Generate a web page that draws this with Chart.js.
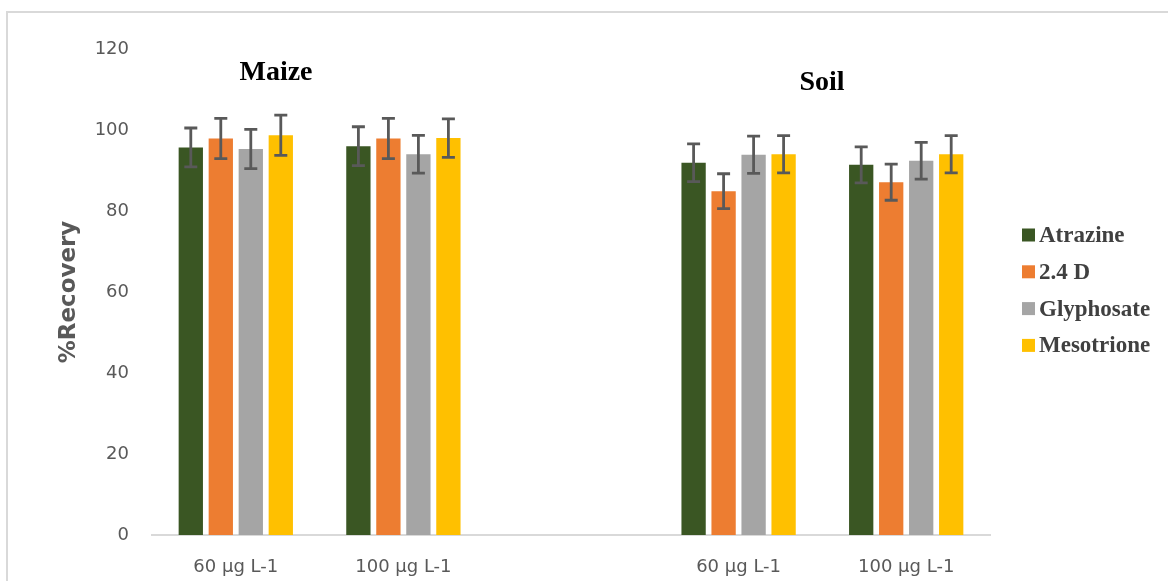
<!DOCTYPE html>
<html>
<head>
<meta charset="utf-8">
<title>%Recovery</title>
<script src="https://cdn.jsdelivr.net/npm/chart.js@4.4.1/dist/chart.umd.min.js"></script>
<style>
  body { margin: 0; background: #fff; }
  #wrap { position: relative; width: 1168px; height: 581px; }
</style>
</head>
<body>
<div id="wrap"><canvas id="recovery"></canvas></div>
<script>
// categories (index 2 is the empty gap between Maize and Soil)
const labels = ['60 µg L-1', '100 µg L-1', '', '60 µg L-1', '100 µg L-1'];

const atrazine = [95.7, 96.0, null, 91.9, 91.4];
const d24 = [97.9, 97.9, null, 84.9, 87.1];
const glyphosate = [95.3, 94.0, null, 93.9, 92.4];
const mesotrione = [98.7, 98.0, null, 94.0, 94.0];

// +/- error for each bar
const atrazineErr = [4.8, 4.8, null, 4.65, 4.45];
const d24Err = [4.95, 4.95, null, 4.3, 4.45];
const glyphosateErr = [4.85, 4.65, null, 4.6, 4.55];
const mesotrioneErr = [4.95, 4.75, null, 4.6, 4.6];

const yTicks = [0, 20, 40, 60, 80, 100, 120];

const errorBars = {
    id: 'errorBars',
    afterDatasetsDraw(chart) {
        const ctx = chart.ctx;
        const y = chart.scales.y;
        ctx.save();
        ctx.strokeStyle = '#595959';
        ctx.lineWidth = 2.8;
        chart.data.datasets.forEach((ds, i) => {
            const meta = chart.getDatasetMeta(i);
            meta.data.forEach((bar, j) => {
                const v = ds.data[j], e = ds.errors[j];
                if (v == null || e == null) return;
                const top = y.getPixelForValue(v + e);
                const bot = y.getPixelForValue(v - e);
                ctx.beginPath();
                ctx.moveTo(bar.x, top); ctx.lineTo(bar.x, bot);
                ctx.moveTo(bar.x - 6.5, top); ctx.lineTo(bar.x + 6.5, top);
                ctx.moveTo(bar.x - 6.5, bot); ctx.lineTo(bar.x + 6.5, bot);
                ctx.stroke();
            });
        });
        ctx.restore();
    }
};

const extras = {
    id: 'extras',
    beforeDraw(chart) {
        const ctx = chart.ctx;
        ctx.save();
        ctx.strokeStyle = '#d9d9d9';
        ctx.lineWidth = 2;
        ctx.beginPath();
        ctx.moveTo(7, 581); ctx.lineTo(7, 12); ctx.lineTo(1168, 12);
        ctx.stroke();
        ctx.restore();
    },
    afterDraw(chart) {
        const ctx = chart.ctx;
        const area = chart.chartArea;
        ctx.save();
        // group titles
        ctx.fillStyle = '#000';
        ctx.font = 'bold 28px "Liberation Serif", serif';
        ctx.textAlign = 'center';
        ctx.textBaseline = 'middle';
        ctx.fillText('Maize', 276, 73);
        ctx.fillText('Soil', 822, 83);
        // legend
        ctx.font = 'bold 23px "Liberation Serif", serif';
        ctx.textAlign = 'left';
        chart.data.datasets.forEach((ds, i) => {
            const cy = 235 + i * 36.8;
            const x0 = area.right + 32;
            ctx.fillStyle = ds.backgroundColor;
            ctx.fillRect(x0, cy - 6.5, 13, 13);
            ctx.fillStyle = '#404040';
            ctx.fillText(ds.label, x0 + 17, cy + 1);
        });
        ctx.restore();
    }
};

new Chart(document.getElementById('recovery'), {
    type: 'bar',
    data: {
        labels,
        datasets: [
            { label: 'Atrazine', data: atrazine, errors: atrazineErr, backgroundColor: '#3a5623' },
            { label: '2.4 D', data: d24, errors: d24Err, backgroundColor: '#ed7d31' },
            { label: 'Glyphosate', data: glyphosate, errors: glyphosateErr, backgroundColor: '#a5a5a5' },
            { label: 'Mesotrione', data: mesotrione, errors: mesotrioneErr, backgroundColor: '#ffc000' }
        ]
    },
    options: {
        responsive: true,
        maintainAspectRatio: false,
        animation: false,
        datasets: {
            bar: { categoryPercentage: 0.716, barPercentage: 0.81 }
        },
        layout: { padding: { left: 0, top: 49, right: 178, bottom: 0 } },
        plugins: {
            legend: { display: false },
            tooltip: { enabled: false }
        },
        scales: {
            x: {
                grid: { display: false, drawTicks: false },
                border: { display: true, color: '#d9d9d9', width: 2 },
                ticks: {
                    padding: 22,
                    color: '#595959',
                    font: { family: '"DejaVu Sans", sans-serif', size: 18 },
                    maxRotation: 0,
                    autoSkip: false
                },
                afterFit(axis) { axis.height = 46; }
            },
            y: {
                min: 0,
                max: 120,
                grid: { display: false, drawTicks: false },
                border: { display: false },
                afterBuildTicks(axis) { axis.ticks = yTicks.map(v => ({ value: v })); },
                ticks: {
                    padding: 23,
                    color: '#595959',
                    font: { family: '"DejaVu Sans", sans-serif', size: 18 }
                },
                title: {
                    display: true,
                    text: '%Recovery',
                    color: '#595959',
                    font: { family: '"DejaVu Sans", sans-serif', size: 23, weight: 'bold' },
                    padding: { top: 55, bottom: 0 }
                },
                afterFit(axis) { axis.width = 152; }
            }
        }
    },
    plugins: [errorBars, extras]
});
</script>
</body>
</html>
